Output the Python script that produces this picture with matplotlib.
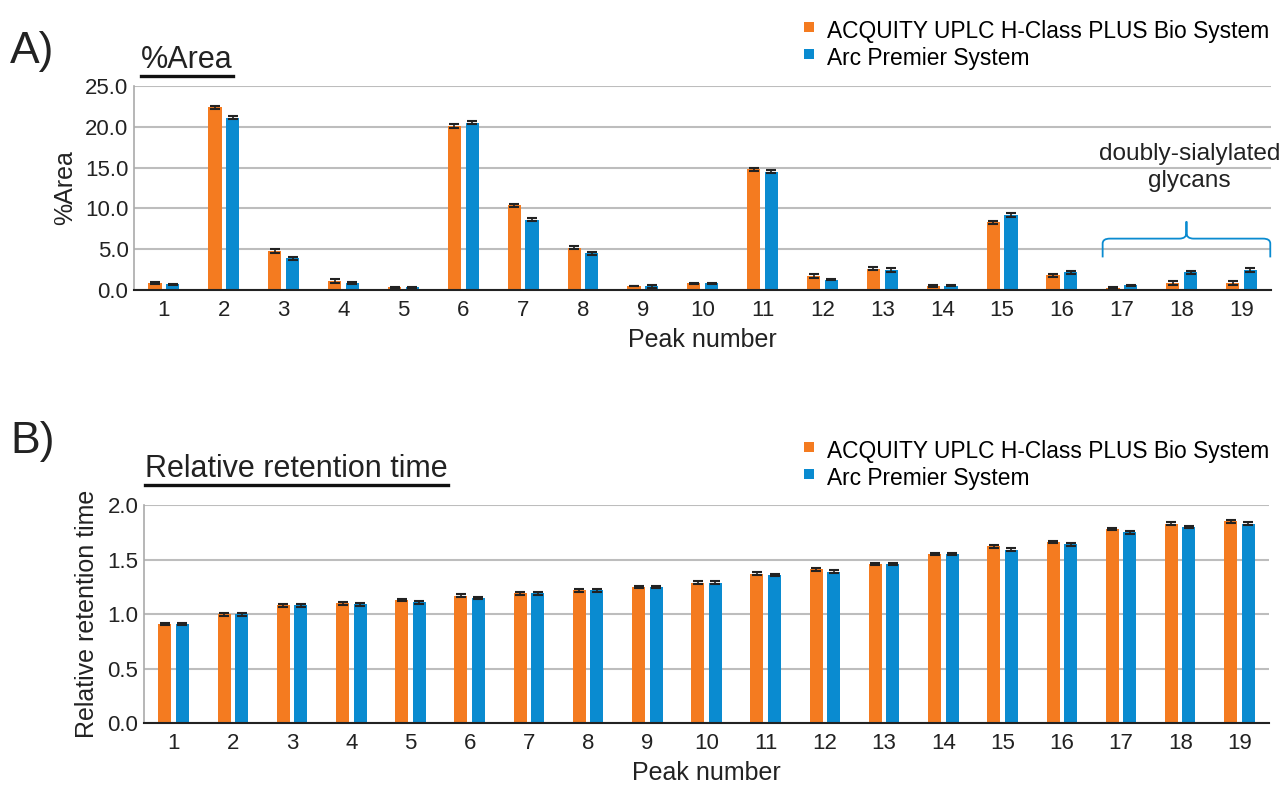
import numpy as np
import matplotlib
matplotlib.use("Agg")
import matplotlib.pyplot as plt
from matplotlib.patches import Patch, PathPatch
from matplotlib.path import Path

plt.rcParams['font.family'] = ['Liberation Sans', 'DejaVu Sans']

peaks = list(range(1, 20))
series_names = ["ACQUITY UPLC H-Class PLUS Bio System", "Arc Premier System"]

# %Area values
area_acquity = [0.9, 22.4, 4.8, 1.1, 0.35, 20.1, 10.4, 5.2, 0.5, 0.85,
                14.8, 1.7, 2.6, 0.5, 8.3, 1.8, 0.25, 0.85, 0.85]
area_arc = [0.7, 21.1, 3.9, 0.85, 0.35, 20.5, 8.6, 4.5, 0.45, 0.85,
            14.5, 1.25, 2.45, 0.55, 9.2, 2.15, 0.6, 2.15, 2.45]
area_err_acquity = [0.1, 0.2, 0.25, 0.25, 0.05, 0.25, 0.2, 0.15, 0.05, 0.05,
                    0.2, 0.25, 0.2, 0.15, 0.2, 0.2, 0.1, 0.2, 0.2]
area_err_arc = [0.05, 0.2, 0.2, 0.15, 0.05, 0.2, 0.2, 0.2, 0.15, 0.05,
                0.2, 0.05, 0.2, 0.05, 0.2, 0.2, 0.05, 0.2, 0.2]

# relative retention time values
rrt_acquity = [0.91, 1.00, 1.08, 1.10, 1.13, 1.17, 1.19, 1.22, 1.25, 1.29,
               1.37, 1.41, 1.46, 1.55, 1.62, 1.66, 1.78, 1.83, 1.85]
rrt_arc = [0.91, 1.00, 1.08, 1.09, 1.11, 1.15, 1.19, 1.22, 1.25, 1.29,
           1.36, 1.39, 1.46, 1.55, 1.59, 1.64, 1.75, 1.80, 1.83]
rrt_err = [0.012] * 19

orange = '#F47B20'
blue = '#0A8BD0'
ink = '#222222'

fig = plt.figure(figsize=(12.86, 7.92), dpi=100)
ax_a = fig.add_axes([0.1042, 0.6338, 0.8845, 0.2576])
ax_b = fig.add_axes([0.112, 0.0865, 0.8748, 0.2759])

x = np.array(peaks)
w = 0.22
off = 0.148
err_kw = dict(ecolor=ink, elinewidth=1.2, capsize=3.5, capthick=1.5)


def style_axes(ax, ylim, yticks, fmt):
    ax.set_xlim(0.5, 19.5)
    ax.set_ylim(*ylim)
    ax.set_yticks(yticks)
    ax.set_yticklabels([fmt.format(v) for v in yticks])
    ax.set_xticks(x)
    ax.set_xticklabels([str(p) for p in peaks])
    ax.tick_params(length=0, labelsize=16, colors=ink)
    ax.tick_params(axis='x', pad=7)
    ax.tick_params(axis='y', pad=4)
    ax.grid(axis='y', color='#BDBDBD', linewidth=1.5)
    ax.set_axisbelow(True)
    for s in ['top', 'right']:
        ax.spines[s].set_visible(False)
    ax.spines['left'].set_color('#AAAAAA')
    ax.spines['left'].set_linewidth(1.2)
    ax.spines['bottom'].set_color(ink)
    ax.spines['bottom'].set_linewidth(1.5)
    ax.set_xlabel('Peak number', fontsize=18, color=ink, labelpad=5)


# panel A
ax_a.bar(x - off, area_acquity, w, color=orange, yerr=area_err_acquity, error_kw=err_kw)
ax_a.bar(x + off, area_arc, w, color=blue, yerr=area_err_arc, error_kw=err_kw)
style_axes(ax_a, (0, 25), [0, 5, 10, 15, 20, 25], '{:.1f}')
ax_a.set_ylabel('%Area', fontsize=18, color=ink, labelpad=6)

# bracket for doubly-sialylated glycans
xl, xr, xm = 16.68, 19.48, 18.08
yb, yh, yp = 4.0, 6.3, 8.4
verts = [(xl, yb), (xl, yh - 0.6), (xl, yh), (xl + 0.12, yh),
         (xm - 0.12, yh), (xm, yh), (xm, yh + 0.7), (xm, yp),
         (xm, yp), (xm, yh + 0.7), (xm, yh), (xm + 0.12, yh),
         (xr - 0.12, yh), (xr, yh), (xr, yh - 0.6), (xr, yb)]
codes = [Path.MOVETO, Path.LINETO, Path.CURVE3, Path.CURVE3,
         Path.LINETO, Path.CURVE3, Path.CURVE3, Path.LINETO,
         Path.MOVETO, Path.LINETO, Path.CURVE3, Path.CURVE3,
         Path.LINETO, Path.CURVE3, Path.CURVE3, Path.LINETO]
ax_a.add_patch(PathPatch(Path(verts, codes), facecolor='none', edgecolor=blue,
                         linewidth=1.3, clip_on=False))
ax_a.text(xm + 0.05, 15.0, 'doubly-sialylated\nglycans', ha='center', va='center',
          fontsize=17.6, color=ink, linespacing=1.3)

# panel B
ax_b.bar(x - off, rrt_acquity, w, color=orange, yerr=rrt_err, error_kw=err_kw)
ax_b.bar(x + off, rrt_arc, w, color=blue, yerr=rrt_err, error_kw=err_kw)
style_axes(ax_b, (0, 2.0), [0, 0.5, 1.0, 1.5, 2.0], '{:.1f}')
ax_b.set_ylabel('Relative retention time', fontsize=18, color=ink, labelpad=6)

# panel letters and underlined titles
fig.text(10 / 1286, 1 - 52 / 792, 'A)', fontsize=32, va='center', ha='left', color=ink)
fig.text(10 / 1286, 1 - 442 / 792, 'B)', fontsize=32, va='center', ha='left', color=ink)

t1 = fig.text(141 / 1286, 1 - 60 / 792, '%Area', fontsize=22, va='center', ha='left',
              color=ink)
t2 = fig.text(145 / 1286, 1 - 469 / 792, 'Relative retention time', fontsize=22,
              va='center', ha='left', color=ink)
fig.canvas.draw()
renderer = fig.canvas.get_renderer()
for t in (t1, t2):
    bb = t.get_window_extent(renderer).transformed(fig.transFigure.inverted())
    fig.add_artist(plt.Line2D([bb.x0, bb.x1], [bb.y0 - 0.001, bb.y0 - 0.001],
                              color='#111111', linewidth=2.4,
                              transform=fig.transFigure))

# legends
handles = [Patch(facecolor=orange, edgecolor='none'),
           Patch(facecolor=blue, edgecolor='none')]
for ypos in (1 - 20 / 792, 1 - 440 / 792):
    leg = fig.legend(handles, series_names, loc='upper right',
                     bbox_to_anchor=(1269 / 1286, ypos), frameon=False,
                     fontsize=16.4, handlelength=0.45, handleheight=0.45,
                     handletextpad=0.55, labelspacing=0.18, borderpad=0,
                     borderaxespad=0)
    for p in leg.get_patches():
        p.set_height(7)
        p.set_y(p.get_y() + 3)

fig.savefig('out.png', dpi=100)
